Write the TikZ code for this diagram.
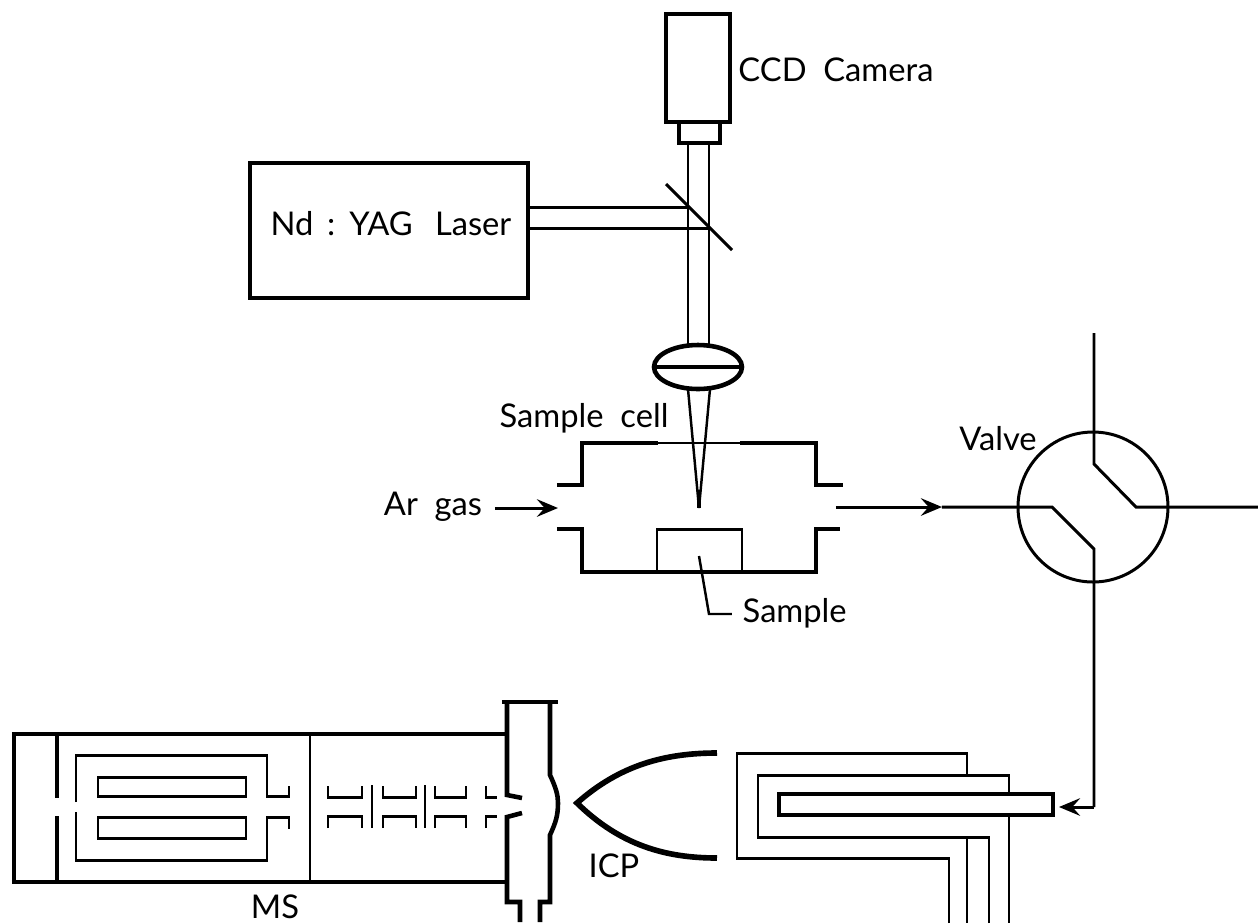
\documentclass[tikz,border=0pt]{standalone}
\usepackage{fontspec}
\setmainfont{Lato}
\usetikzlibrary{arrows.meta}
\tikzset{
  wall/.style={line width=1.3pt},
  pipe/.style={line width=0.85pt},
  fine/.style={line width=0.7pt},
  flow/.style={line width=0.85pt,-{Stealth[length=6pt,width=5pt,inset=2.2pt]}},
  lbl/.style={font=\fontsize{9.3}{11}\selectfont,inner sep=0pt},
}
\begin{document}
\begin{tikzpicture}[x=0.01cm,y=-0.01cm,line join=miter]
\useasboundingbox (0,0) rectangle (1259,923);
\draw[wall] (666,14) rectangle (730,122);
\draw[wall] (679,122) -- (679,143) -- (720,143) -- (720,122);
\draw[pipe] (688,143) -- (688,345);
\draw[pipe] (709,143) -- (709,345);
\draw[pipe] (666,184) -- (732,250);
\node[lbl] (camera) at (836,70) {CCD\ \ Camera};
\node[draw,line width=1.1pt,minimum width=2.78cm,minimum height=1.35cm,inner sep=0pt] (laser) at (389,230.5) {};
\node[lbl] (laserlabel) at (391,224) {Nd\ \,:\ \,YAG\ \ \,Laser};
\draw[pipe] (528,207) -- (688,207);
\draw[pipe] (528,228) -- (709,228);
\draw[wall] (698,367) ellipse (44 and 22);
\draw[wall] (654,367) -- (742,367);
\draw[fine] (688,389) -- (699,508) -- (710,389);
\draw[line width=1.2pt] (699,490) -- (699,508);
\node[lbl] (cell) at (584,418) {Sample\ \ cell};
\draw[wall] (557,485) -- (582,485) -- (582,443) -- (658,443);
\draw[fine] (658,443) -- (740,443);
\draw[wall] (740,443) -- (816,443) -- (816,485) -- (843,485);
\draw[wall] (557,529) -- (582,529) -- (582,572) -- (816,572) -- (816,529) -- (840,529);
\draw[pipe] (657,572) -- (657,529) -- (742,529) -- (742,572);
\draw[fine] (699,556) -- (709,614) -- (732,614);
\node[lbl,anchor=west] (sample) at (742,613) {Sample};
\node[lbl] (argas) at (433,507) {Ar\ \ gas};
\draw[flow] (495,508) -- (558,508);
\draw[flow] (836,507) -- (942,507);
\draw[pipe] (942,507) -- (1052,507) -- (1094,549) -- (1094,807);
\draw[flow] (1094,807) -- (1059,807);
\draw[pipe] (1094,333) -- (1094,464) -- (1136,507) -- (1258,507);
\draw[pipe] (1093,507) circle (75);
\node[lbl] (valve) at (998,439) {Valve};
\draw[wall] (12,734) -- (507,734);
\draw[wall] (12,882) -- (507,882);
\draw[wall] (14,734) -- (14,882);
\draw[wall] (57,734) -- (57,798);
\draw[wall] (57,816) -- (57,882);
\draw[pipe] (310,734) -- (310,882);
\draw[pipe] (76,802) -- (76,755) -- (267,755) -- (267,796) -- (289,796) -- (289,786);
\draw[pipe] (76,812) -- (76,860) -- (267,860) -- (267,817) -- (289,817) -- (289,829);
\draw[pipe] (98,777) rectangle (246,796);
\draw[pipe] (98,817) rectangle (246,838);
\foreach \xa/\xb in {328/362,383/416,435/466} {
  \draw[pipe] (\xa,786) -- (\xa,797) -- (\xb,797) -- (\xb,786);
  \draw[pipe] (\xa,828) -- (\xa,816) -- (\xb,816) -- (\xb,828);
}
\draw[pipe] (372,785) -- (372,828);
\draw[pipe] (425,785) -- (425,828);
\draw[pipe] (486,786) -- (486,797) -- (497,797);
\draw[pipe] (486,828) -- (486,816) -- (497,816);
\draw[wall] (502,702) -- (558,702);
\draw[wall] (507,702) -- (507,795) -- (522,798);
\draw[wall] (522,813) -- (507,817) -- (507,902) -- (520,902) -- (520,922);
\draw[wall] (550,702) -- (550,775) .. controls (556,788) and (558,795) .. (558,803) .. controls (558,815) and (556,822) .. (550,835) -- (550,902) -- (540,902) -- (540,922);
\node[lbl] (ms) at (275,907) {MS};
\draw[line width=1.6pt] (717,753) .. controls (665,753) and (620,765) .. (577,803) .. controls (620,845) and (665,858) .. (717,858);
\node[lbl] (icp) at (614,866) {ICP};
\draw[pipe] (949,923) -- (949,858) -- (737,858) -- (737,753) -- (967,753) -- (967,775);
\draw[pipe] (989,923) -- (989,837) -- (758,837) -- (758,775) -- (1009,775) -- (1009,794);
\draw[pipe] (967,837) -- (967,923);
\draw[pipe] (1009,815) -- (1009,923);
\draw[line width=1.1pt] (779,794) rectangle (1053,815);
\end{tikzpicture}
\end{document}
